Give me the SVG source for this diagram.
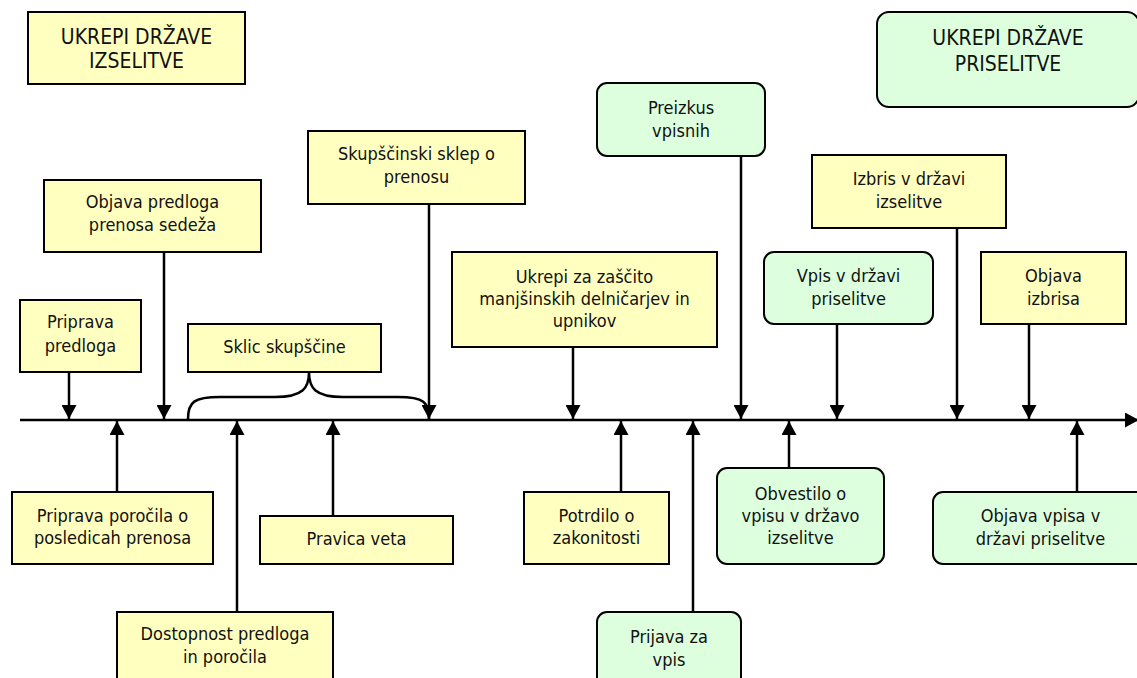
<svg xmlns="http://www.w3.org/2000/svg" width="1137" height="678" viewBox="0 0 1137 678">
<style>
.y{fill:#FFFFC0;stroke:#000;stroke-width:2}
.g{fill:#DDFFDD;stroke:#000;stroke-width:2}
text{font-family:"DejaVu Sans Condensed","Liberation Sans",sans-serif;font-stretch:condensed;font-size:18px;fill:#111;text-anchor:middle}
.t{font-size:21px}
.c{stroke:#000;stroke-width:2.5;fill:none}
</style>
<defs>
<marker id="ah" viewBox="0 0 14 15" refX="14" refY="7.5" markerWidth="14" markerHeight="15" markerUnits="userSpaceOnUse" orient="auto">
<path d="M0,0 L14,7.5 L0,15 z" fill="#000"/>
</marker>
</defs>
<rect width="1137" height="678" fill="#fff"/>
<g id="connectors">
<line class="c" x1="20" y1="420" x2="1139" y2="420" marker-end="url(#ah)"/>
<path class="c" d="M188,419 C188,402 194,397 220,397 L275,397 C303,397 309,388 309,372 C309,388 315,397 343,397 L398,397 C424,397 429,402 429,419"/>
<line class="c" x1="69" y1="372" x2="69" y2="419" marker-end="url(#ah)"/>
<line class="c" x1="164" y1="252" x2="164" y2="419" marker-end="url(#ah)"/>
<line class="c" x1="429" y1="204" x2="429" y2="419" marker-end="url(#ah)"/>
<line class="c" x1="573" y1="347" x2="573" y2="419" marker-end="url(#ah)"/>
<line class="c" x1="741" y1="156" x2="741" y2="419" marker-end="url(#ah)"/>
<line class="c" x1="837" y1="324" x2="837" y2="419" marker-end="url(#ah)"/>
<line class="c" x1="957" y1="228" x2="957" y2="419" marker-end="url(#ah)"/>
<line class="c" x1="1029" y1="324" x2="1029" y2="419" marker-end="url(#ah)"/>
<line class="c" x1="117" y1="492" x2="117" y2="421" marker-end="url(#ah)"/>
<line class="c" x1="237" y1="612" x2="237" y2="421" marker-end="url(#ah)"/>
<line class="c" x1="333" y1="516" x2="333" y2="421" marker-end="url(#ah)"/>
<line class="c" x1="621" y1="492" x2="621" y2="421" marker-end="url(#ah)"/>
<line class="c" x1="693" y1="612" x2="693" y2="421" marker-end="url(#ah)"/>
<line class="c" x1="789" y1="468" x2="789" y2="421" marker-end="url(#ah)"/>
<line class="c" x1="1077" y1="492" x2="1077" y2="421" marker-end="url(#ah)"/>
</g>
<g id="title-izselitve"><rect class="y" x="28" y="12" width="217" height="72"/><text class="t" x="136.5" y="44">UKREPI DRŽAVE</text><text class="t" x="136.5" y="68">IZSELITVE</text></g>
<g id="title-priselitve"><rect class="g" x="877" y="12" width="262" height="95" rx="12"/><text class="t" x="1008" y="45">UKREPI DRŽAVE</text><text class="t" x="1008" y="71">PRISELITVE</text></g>
<g id="objava-predloga"><rect class="y" x="44" y="180" width="217" height="72"/><text x="152.5" y="208">Objava predloga</text><text x="152.5" y="231">prenosa sedeža</text></g>
<g id="skupscinski-sklep"><rect class="y" x="308" y="131" width="217" height="73"/><text x="416.5" y="160">Skupščinski sklep o</text><text x="416.5" y="183">prenosu</text></g>
<g id="preizkus"><rect class="g" x="597" y="83" width="168" height="73" rx="10"/><text x="681" y="114">Preizkus</text><text x="681" y="137">vpisnih</text></g>
<g id="ukrepi-zascita"><rect class="y" x="452" y="252" width="265" height="95"/><text x="584.5" y="283">Ukrepi za zaščito</text><text x="584.5" y="305">manjšinskih delničarjev in</text><text x="584.5" y="327">upnikov</text></g>
<g id="izbris"><rect class="y" x="812" y="155" width="194" height="73"/><text x="909" y="185">Izbris v državi</text><text x="909" y="208">izselitve</text></g>
<g id="vpis"><rect class="g" x="764" y="252" width="169" height="72" rx="10"/><text x="848.5" y="282">Vpis v državi</text><text x="848.5" y="305">priselitve</text></g>
<g id="objava-izbrisa"><rect class="y" x="981" y="252" width="145" height="72"/><text x="1053.5" y="282">Objava</text><text x="1053.5" y="305">izbrisa</text></g>
<g id="priprava-predloga"><rect class="y" x="20" y="300" width="121" height="72"/><text x="80.5" y="328">Priprava</text><text x="80.5" y="352">predloga</text></g>
<g id="sklic"><rect class="y" x="188" y="324" width="193" height="48"/><text x="284.5" y="353">Sklic skupščine</text></g>
<g id="priprava-porocila"><rect class="y" x="12" y="492" width="201" height="72"/><text x="112.5" y="522">Priprava poročila o</text><text x="112.5" y="544">posledicah prenosa</text></g>
<g id="pravica-veta"><rect class="y" x="260" y="516" width="193" height="48"/><text x="356.5" y="545">Pravica veta</text></g>
<g id="dostopnost"><rect class="y" x="117" y="612" width="216" height="80"/><text x="225" y="640">Dostopnost predloga</text><text x="225" y="663">in poročila</text></g>
<g id="potrdilo"><rect class="y" x="524" y="492" width="145" height="72"/><text x="596.5" y="522">Potrdilo o</text><text x="596.5" y="544">zakonitosti</text></g>
<g id="prijava"><rect class="g" x="597" y="612" width="144" height="80" rx="10"/><text x="669" y="643">Prijava za</text><text x="669" y="666">vpis</text></g>
<g id="obvestilo"><rect class="g" x="717" y="468" width="167" height="96" rx="10"/><text x="800.5" y="500">Obvestilo o</text><text x="800.5" y="522">vpisu v državo</text><text x="800.5" y="544">izselitve</text></g>
<g id="objava-vpisa"><rect class="g" x="933" y="492" width="215" height="72" rx="10"/><text x="1040.5" y="522">Objava vpisa v</text><text x="1040.5" y="545">državi priselitve</text></g>
</svg>
